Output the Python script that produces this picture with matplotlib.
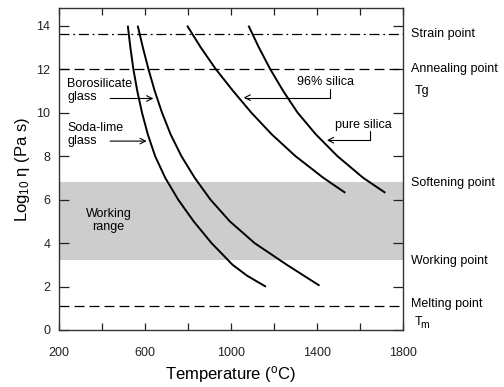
import numpy as np
import matplotlib
matplotlib.use('Agg')
import matplotlib.pyplot as plt
from matplotlib.ticker import MultipleLocator, FuncFormatter
from matplotlib.transforms import offset_copy

plt.rcParams['font.family'] = ['Liberation Sans', 'DejaVu Sans']
plt.rcParams['mathtext.fontset'] = 'custom'
plt.rcParams['mathtext.rm'] = 'Liberation Sans'
plt.rcParams['mathtext.it'] = 'Liberation Sans:italic'

#
# values: log10 viscosity and temperature (C)
#
soda_eta = [14, 13, 12, 11, 10, 9, 8, 7, 6, 5, 4, 3, 2.5, 1.99]
soda_T = [521, 533, 547, 565, 587, 614, 648, 695, 755, 827, 910, 1008, 1075, 1163]

boro_eta = [14, 13, 12, 11, 10, 9, 8, 7, 6, 5, 4, 3, 2.04]
boro_T = [567, 591, 617, 646, 680, 720, 770, 832, 905, 995, 1110, 1260, 1412]

silica96_eta = [14, 13, 12, 11, 10, 9, 8, 7, 6.31]
silica96_T = [797, 860, 930, 1010, 1095, 1190, 1300, 1430, 1532]

pure_eta = [14, 13, 12, 11, 10, 9, 8, 7, 6.31]
pure_T = [1082, 1130, 1183, 1243, 1310, 1395, 1495, 1615, 1718]

# reference levels
strain = 13.6
annealing = 12.0
softening = 6.8
working = 3.2
melting = 1.1

fig = plt.figure(figsize=(5.04, 3.87), dpi=100)
ax = fig.add_axes([0.1165, 0.1473, 0.6831, 0.8313])

ax.axhspan(working, softening, color='#cdcdcd', lw=0, zorder=0)
ax.axhline(strain, color='black', lw=0.9, dashes=(8, 3, 1.5, 3))
ax.axhline(annealing, color='black', lw=0.9, dashes=(8, 4))
ax.axhline(melting, color='black', lw=0.9, dashes=(8, 4))

for T, eta in [(soda_T, soda_eta), (boro_T, boro_eta),
               (silica96_T, silica96_eta), (pure_T, pure_eta)]:
    ax.plot(T, eta, color='black', lw=1.4, solid_capstyle='butt', solid_joinstyle='round')

ax.set_xlim(200, 1800)
ax.set_ylim(0, 14.8)
ax.xaxis.set_major_locator(MultipleLocator(200))
ax.xaxis.set_major_formatter(FuncFormatter(lambda v, p: '%d' % v if (v - 200) % 400 == 0 else ''))
ax.yaxis.set_major_locator(MultipleLocator(2))
ax.tick_params(axis='x', direction='in', length=5, width=0.9, top=True,
               labelsize=9, pad=12, colors='#222222')
ax.tick_params(axis='y', direction='in', length=7, width=0.9, right=True,
               labelsize=9, pad=6, colors='#222222')
for s in ax.spines.values():
    s.set_color('#333333')
    s.set_linewidth(1.0)

ax.set_xlabel('Temperature ($^{\\rm o}$C)', fontsize=12, labelpad=4)
ax.set_ylabel('Log$_{10}$ \u03b7 (Pa s)', fontsize=12, labelpad=3)

# labels inside
ax.text(239, 11.03, 'Borosilicate\nglass', fontsize=9, ha='left', va='center', linespacing=1.1)
ax.annotate('', xy=(640, 10.65), xytext=(439, 10.65),
            arrowprops=dict(arrowstyle='->', lw=0.8, shrinkA=0, shrinkB=0))
ax.text(239, 9.0, 'Soda-lime\nglass', fontsize=9, ha='left', va='center', linespacing=1.1)
ax.annotate('', xy=(609, 8.69), xytext=(439, 8.69),
            arrowprops=dict(arrowstyle='->', lw=0.8, shrinkA=0, shrinkB=0))
ax.text(431, 5.03, 'Working\nrange', fontsize=9, ha='center', va='center', linespacing=1.1)

ax.text(1439, 11.4, '96% silica', fontsize=9, ha='center', va='center')
ax.annotate('', xy=(1059, 10.69), xytext=(1459, 11.07),
            arrowprops=dict(arrowstyle='->', lw=0.8, shrinkA=0, shrinkB=0,
                            connectionstyle='angle,angleA=90,angleB=0,rad=0'))
ax.text(1617, 9.42, 'pure silica', fontsize=9, ha='center', va='center')
ax.annotate('', xy=(1446, 8.73), xytext=(1648, 9.15),
            arrowprops=dict(arrowstyle='->', lw=0.8, shrinkA=0, shrinkB=0,
                            connectionstyle='angle,angleA=90,angleB=0,rad=0'))

# labels on the right
tr = ax.get_yaxis_transform()
xr = 1.023
ax.text(xr, strain, 'Strain point', transform=tr, fontsize=9, va='center')
ax.text(xr, annealing, 'Annealing point', transform=tr, fontsize=9, va='center')
ax.text(xr + 0.01, 10.98, 'Tg', transform=tr, fontsize=9, va='center')
ax.text(xr, softening - 0.06, 'Softening point', transform=tr, fontsize=9, va='center')
ax.text(xr, working - 0.02, 'Working point', transform=tr, fontsize=9, va='center')
ax.text(xr, melting + 0.08, 'Melting point', transform=tr, fontsize=9, va='center')
ax.text(xr + 0.01, 0.38, 'T', transform=tr, fontsize=9, va='center')
ax.text(xr + 0.028, 0.38, 'm', fontsize=7.5, va='center',
        transform=offset_copy(tr, fig=fig, x=0, y=-2, units='points'))

fig.savefig('out.png', dpi=100)
